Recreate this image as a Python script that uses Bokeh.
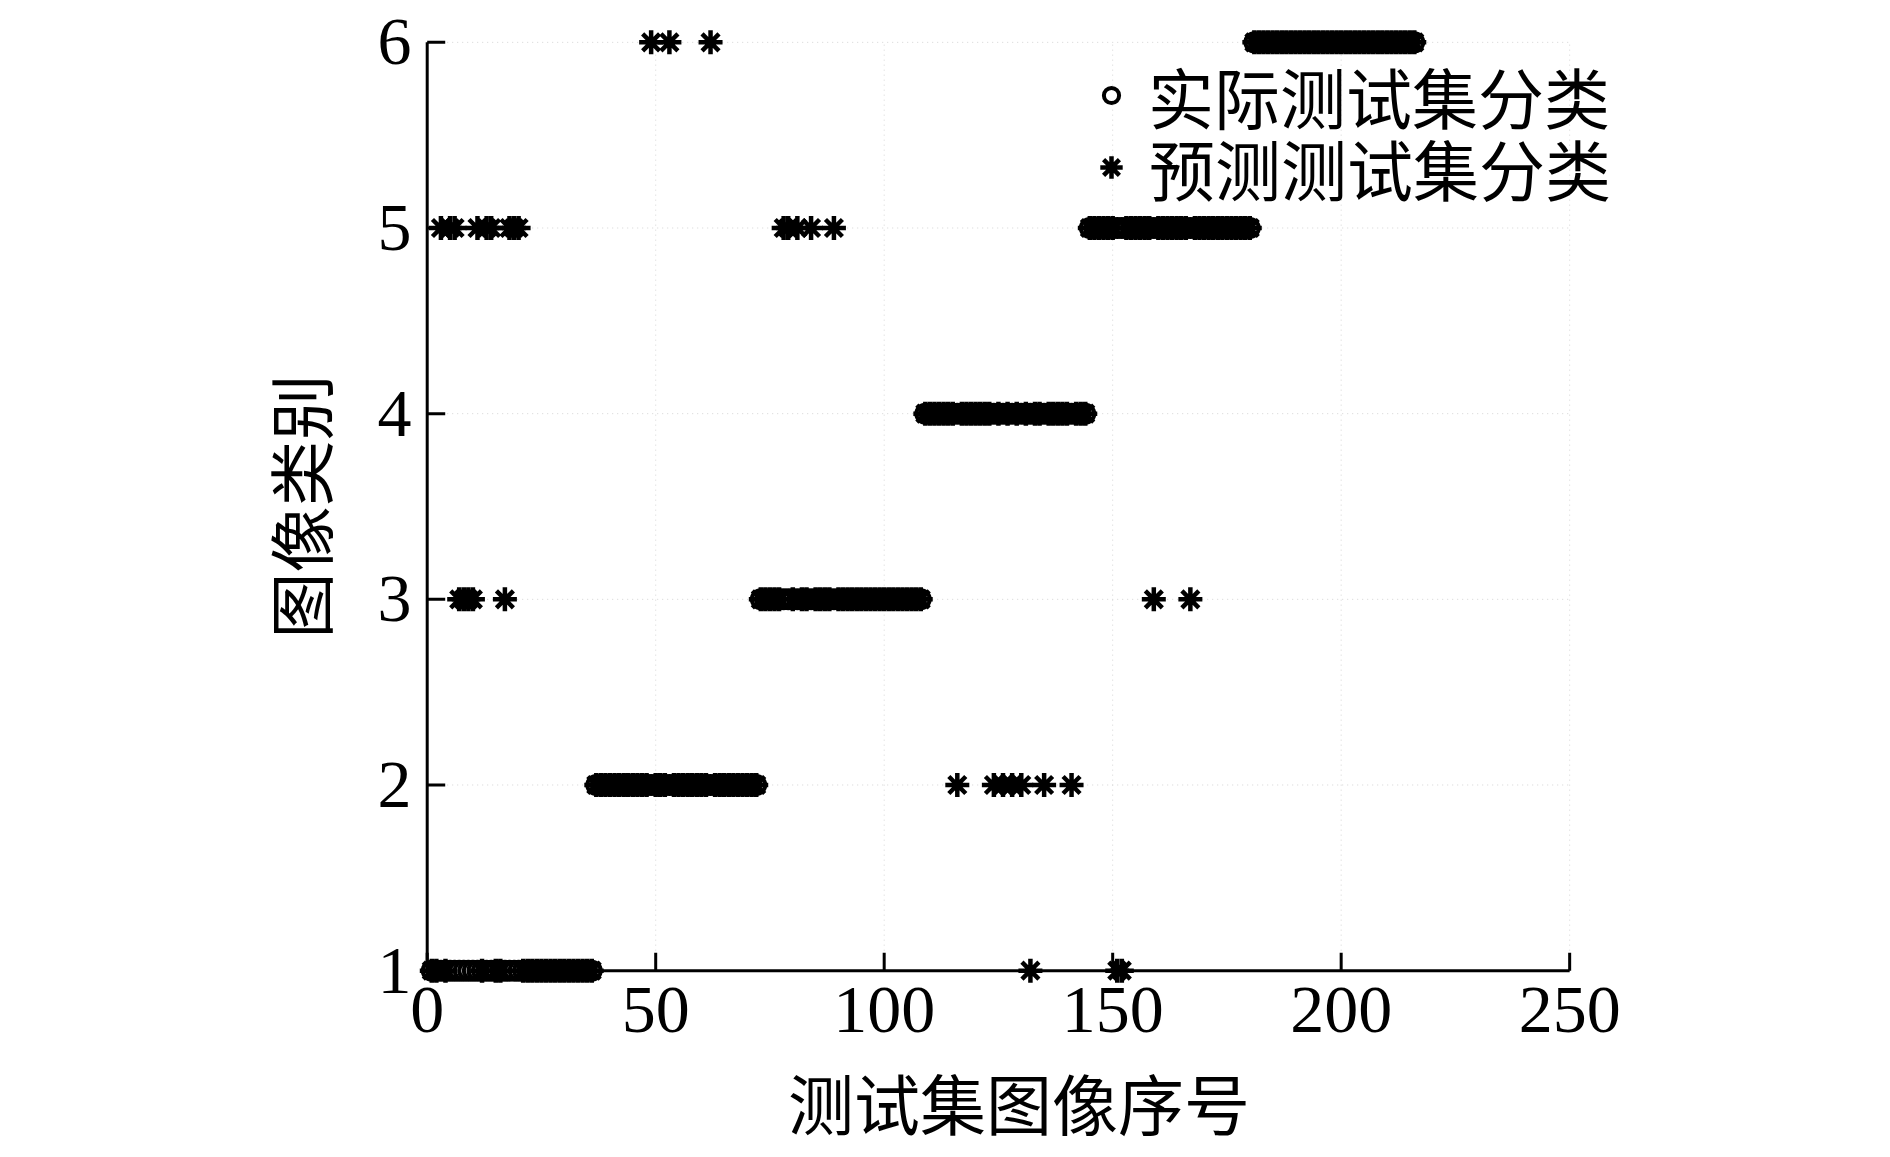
from bokeh.plotting import figure
from bokeh.models import Range1d, Legend, LegendItem, FixedTicker, ColumnDataSource
from bokeh.embed import file_html
from bokeh.resources import INLINE

# ---- data ----
class_sizes = [36, 36, 36, 36, 36, 36]
class_ids = [1, 2, 3, 4, 5, 6]
# misclassified samples (sample index, predicted class)
mis_index = [3, 5, 6, 11, 13, 14, 18, 19, 20,   # class 1 -> 5
             7, 8, 9, 10, 17,                     # class 1 -> 3
             49, 53, 62,                          # class 2 -> 6
             78, 79, 81, 84, 89,                  # class 3 -> 5
             116, 124, 126, 128, 130, 135, 141,   # class 4 -> 2
             132,                                 # class 4 -> 1
             151, 152,                            # class 5 -> 1
             159, 167]                            # class 5 -> 3
mis_class = [5, 5, 5, 5, 5, 5, 5, 5, 5,
             3, 3, 3, 3, 3,
             6, 6, 6,
             5, 5, 5, 5, 5,
             2, 2, 2, 2, 2, 2, 2,
             1,
             1, 1,
             3, 3]
x_ticks = [0, 50, 100, 150, 200, 250]
y_ticks = [1, 2, 3, 4, 5, 6]
x_title = "测试集图像序号"
y_title = "图像类别"
series_names = ["实际测试集分类", "预测测试集分类"]

actual = []
for c, n in zip(class_ids, class_sizes):
    actual += [c] * n
idx = list(range(1, len(actual) + 1))
pred = list(actual)
for i, c in zip(mis_index, mis_class):
    pred[i - 1] = c

src_a = ColumnDataSource(dict(x=idx, y=actual))
src_p = ColumnDataSource(dict(x=idx, y=pred))

SERIF = "Liberation Serif"
CJK = "Noto Sans CJK SC"

x0, x1 = x_ticks[0], x_ticks[-1]
y0, y1 = y_ticks[0], y_ticks[-1]
nx, ny = len(x_ticks), len(y_ticks)

# ranges padded a little so markers lying on the axes are not clipped
p = figure(width=1874, height=1152, output_backend="svg", toolbar_location=None,
           x_range=Range1d(-3, 262), y_range=Range1d(0.92, 6.08),
           min_border_left=413, min_border_right=250, min_border_top=27,
           min_border_bottom=167)
p.outline_line_color = None
p.background_fill_color = "white"
p.border_fill_color = "white"
p.xgrid.visible = False
p.ygrid.visible = False

# faint dotted grid limited to the axes box
grid_style = dict(line_color="#d4d4d4", line_dash="1 4", line_width=1)
p.segment(x0=x_ticks, y0=[y0] * nx, x1=x_ticks, y1=[y1] * nx, **grid_style)
p.segment(x0=[x0] * ny, y0=y_ticks, x1=[x1] * ny, y1=y_ticks, **grid_style)

# axis lines through x=0 and y=1, with inward ticks
tick_dy = 0.097   # 18 px
tick_dx = 3.94    # 18 px
p.segment(x0=[x0, x0], y0=[y0, y0], x1=[x1, x0], y1=[y0, y1],
          line_color="black", line_width=3)
p.segment(x0=x_ticks, y0=[y0] * nx, x1=x_ticks, y1=[y0 + tick_dy] * nx,
          line_color="black", line_width=3)
p.segment(x0=[x0] * ny, y0=y_ticks, x1=[x0 + tick_dx] * ny, y1=y_ticks,
          line_color="black", line_width=3)

r1 = p.scatter("x", "y", source=src_a, marker="circle", size=18,
               fill_color="white", line_color="black", line_width=4)
r2 = p.scatter("x", "y", source=src_p, marker="asterisk", size=24,
               line_color="black", line_width=4.5)

for ax, ticks in ((p.xaxis[0], x_ticks), (p.yaxis[0], y_ticks)):
    ax.ticker = FixedTicker(ticks=ticks)
    ax.axis_line_color = None
    ax.major_tick_line_color = None
    ax.minor_tick_line_color = None
    ax.major_tick_in = 0
    ax.major_tick_out = 0
    ax.major_label_text_font = SERIF
    ax.major_label_text_font_size = "68px"
    ax.major_label_text_color = "black"
    ax.axis_label_text_font = CJK
    ax.axis_label_text_font_size = "66px"
    ax.axis_label_text_font_style = "normal"
    ax.axis_label_text_color = "black"

p.xaxis.axis_label = x_title
p.yaxis.axis_label = y_title
p.xaxis.major_label_standoff = 2
p.yaxis.major_label_standoff = 2
p.xaxis.axis_label_standoff = 18
p.yaxis.axis_label_standoff = 29


def make_legend(label, renderer, loc, gw, standoff):
    lg = Legend(items=[LegendItem(label=label, renderers=[renderer])], location=loc)
    lg.label_text_font = CJK
    lg.label_text_font_size = "66px"
    lg.label_text_color = "black"
    lg.glyph_width = gw
    lg.glyph_height = 66
    lg.spacing = 0
    lg.padding = 6
    lg.margin = 0
    lg.label_standoff = standoff
    lg.border_line_color = None
    lg.background_fill_alpha = 0
    return lg


p.add_layout(make_legend(series_names[0], r1, (679, 842), 38, 18))
p.add_layout(make_legend(series_names[1], r2, (670, 770), 56, 10))

open("out.html", "w").write(file_html(p, INLINE))
